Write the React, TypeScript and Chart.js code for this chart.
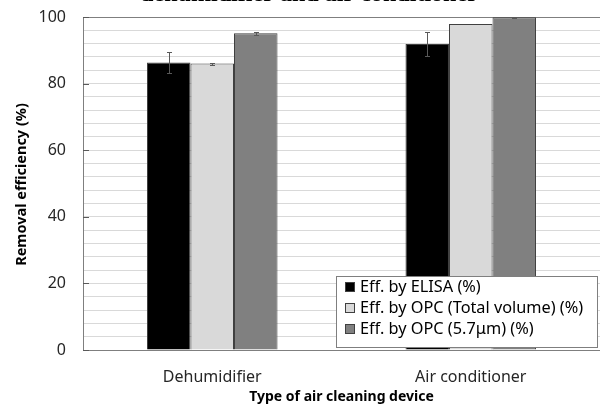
import React, { useEffect, useRef } from "react";
import { Chart, registerables } from "chart.js";

Chart.register(...registerables);

const categories = ["Dehumidifier", "Air conditioner"];
const seriesNames = ["Eff. by ELISA (%)", "Eff. by OPC (Total volume) (%)", "Eff. by OPC (5.7\u03bcm) (%)"];
const elisaValues = [86.3, 91.9];
const elisaErrors = [3.2, 3.6];
const opcTotalValues = [86.0, 97.9];
const opcTotalErrors = [0.3, 0.0];
const opc57Values = [95.1, 99.9];
const opc57Errors = [0.5, 0.2];
const seriesColors = ["#000000", "#d9d9d9", "#808080"];
const yTickLabels = [0, 20, 40, 60, 80, 100];
const titleText = "dehumidifier and air conditioner";
const yTitle = "Removal efficiency (%)";
const xTitle = "Type of air cleaning device";

const FONT = "'Noto Sans', 'Open Sans', sans-serif";

const overlayPlugin = {
  id: "overlay",
  afterDatasetsDraw(chart: any) {
    const ctx = chart.ctx;
    const y = chart.scales.y;
    const errs = [elisaErrors, opcTotalErrors, opc57Errors];
    const vals = [elisaValues, opcTotalValues, opc57Values];
    ctx.save();
    ctx.strokeStyle = "#595959";
    ctx.lineWidth = 1;
    errs.forEach((errArr, di) => {
      const meta = chart.getDatasetMeta(di);
      meta.data.forEach((bar: any, i: number) => {
        const e = errArr[i];
        if (!e) return;
        const v = vals[di][i];
        const x = Math.round(bar.x) + 0.5;
        const yt = Math.round(y.getPixelForValue(Math.min(100, v + e))) + 0.5;
        const yb = Math.round(y.getPixelForValue(v - e)) + 0.5;
        ctx.beginPath();
        ctx.moveTo(x, yt);
        ctx.lineTo(x, yb);
        ctx.moveTo(x - 2.5, yt);
        ctx.lineTo(x + 2.5, yt);
        ctx.moveTo(x - 2.5, yb);
        ctx.lineTo(x + 2.5, yb);
        ctx.stroke();
      });
    });
    ctx.restore();
  },
  afterDraw(chart: any) {
    const ctx = chart.ctx;
    const area = chart.chartArea;
    const y = chart.scales.y;
    ctx.save();
    // inside major tick marks
    ctx.strokeStyle = "#595959";
    ctx.lineWidth = 1;
    yTickLabels.forEach((v) => {
      const py = Math.round(y.getPixelForValue(v)) + 0.5;
      ctx.beginPath();
      ctx.moveTo(area.left, py);
      ctx.lineTo(area.left + 6, py);
      ctx.stroke();
    });

    // title (clipped at top)
    ctx.fillStyle = "#000";
    ctx.font = "bold 20px 'Liberation Serif', 'DejaVu Serif', serif";
    const w = ctx.measureText(titleText).width;
    const size = (20 * 338) / w;
    ctx.font = `bold ${size}px 'Liberation Serif', 'DejaVu Serif', serif`;
    ctx.textAlign = "center";
    ctx.textBaseline = "alphabetic";
    ctx.fillText(titleText, 309, 0.5);

    // axis titles
    ctx.fillStyle = "#000";
    ctx.textBaseline = "middle";
    ctx.font = `bold 14px ${FONT}`;
    ctx.fillText(xTitle, (area.left + area.right) / 2, 397);
    ctx.font = `bold 14.5px ${FONT}`;
    ctx.save();
    ctx.translate(22, (area.top + area.bottom) / 2 + 1);
    ctx.rotate(-Math.PI / 2);
    ctx.fillText(yTitle, 0, 0);
    ctx.restore();

    // legend
    const lx = 336.5, ly = 276.5, lw = 261, lh = 71;
    ctx.fillStyle = "#ffffff";
    ctx.fillRect(lx, ly, lw, lh);
    ctx.strokeStyle = "#7f7f7f";
    ctx.strokeRect(lx, ly, lw, lh);
    ctx.font = `16.3px ${FONT}`;
    ctx.textAlign = "left";
    ctx.textBaseline = "middle";
    seriesNames.forEach((name, i) => {
      const cy = 287 + i * 21;
      ctx.fillStyle = seriesColors[i];
      ctx.fillRect(345.5, cy - 4.5, 9, 9);
      ctx.strokeStyle = "#404040";
      ctx.strokeRect(345.5, cy - 4.5, 9, 9);
      ctx.fillStyle = "#000";
      ctx.fillText(name, 360, cy);
    });
    ctx.restore();
  },
};

export default function App() {
  const ref = useRef<HTMLCanvasElement | null>(null);
  useEffect(() => {
    if (!ref.current) return;
    const chart = new Chart(ref.current, {
      type: "bar",
      data: {
        labels: categories,
        datasets: [
          { label: seriesNames[0], data: elisaValues, backgroundColor: seriesColors[0], borderColor: "#404040", borderWidth: 1 },
          { label: seriesNames[1], data: opcTotalValues, backgroundColor: seriesColors[1], borderColor: "#404040", borderWidth: 1 },
          { label: seriesNames[2], data: opc57Values, backgroundColor: seriesColors[2], borderColor: "#404040", borderWidth: 1 },
        ],
      },
      options: {
        responsive: false,
        animation: false,
        devicePixelRatio: 1,
        layout: { padding: { top: 17, left: 0, right: 0, bottom: 0 } },
        datasets: { bar: { barPercentage: 1, categoryPercentage: 0.505 } },
        plugins: { legend: { display: false }, title: { display: false }, tooltip: { enabled: false } },
        scales: {
          x: {
            grid: { display: false, drawTicks: false },
            border: { display: true, color: "#7f7f7f", width: 1 },
            ticks: { color: "#262626", font: { family: FONT, size: 16 }, padding: 18 },
            afterFit: (s: any) => { s.height = 55; s.paddingLeft = 0; s.paddingRight = 0; },
          },
          y: {
            min: 0,
            max: 100,
            grid: {
              drawTicks: false,
              color: (c: any) => (c.tick && c.tick.value === 100 ? "#7f7f7f" : "#d9d9d9"),
              lineWidth: 1,
            },
            border: { display: true, color: "#7f7f7f", width: 1 },
            ticks: {
              stepSize: 4,
              autoSkip: false,
              padding: 17,
              color: "#262626",
              font: { family: FONT, size: 16 },
              callback: (v: any) => (Number(v) % 20 === 0 ? String(v) : ""),
            },
            afterFit: (s: any) => { s.width = 83; s.paddingTop = 0; s.paddingBottom = 0; },
          },
        },
      } as any,
      plugins: [overlayPlugin],
    });
    return () => chart.destroy();
  }, []);
  return (
    <div style={{ position: "fixed", left: 0, top: 0, width: 600, height: 405, overflow: "hidden", background: "#fff" }}>
      <canvas ref={ref} width={600} height={405} style={{ width: 600, height: 405, display: "block" }} />
    </div>
  );
}
